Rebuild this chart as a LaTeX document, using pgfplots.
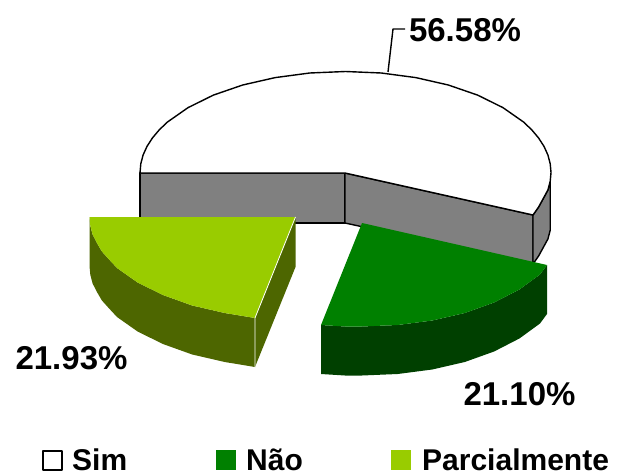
\documentclass[border=0pt]{standalone}
\usepackage{pgfplots}
\usepackage{fontspec}
\setmainfont{Liberation Sans}
\pgfplotsset{compat=1.18}
\definecolor{grayw}{HTML}{808080}
\definecolor{gtop}{HTML}{008000}
\definecolor{gside}{HTML}{004000}
\definecolor{ytop}{HTML}{99CC00}
\definecolor{yside}{HTML}{4D6600}
\newcommand{\lab}{\fontsize{33}{36}\selectfont\bfseries}
\newcommand{\leg}{\fontsize{30}{34}\selectfont\bfseries}
\begin{document}
\begin{tikzpicture}
\begin{axis}[
  scale only axis, width=628pt, height=473pt,
  xmin=0, xmax=628, ymin=0, ymax=473, y dir=reverse,
  axis lines=none, clip=false, no markers,
  every axis plot/.append style={line join=round}
]
% page frame (invisible), holds the picture at the reference's size
\addplot[draw=none] coordinates {(0,0) (628,0) (628,473) (0,473)};
% grey walls of the Sim slice
\addplot[draw=black, line width=1.4pt, fill=grayw] coordinates {(140,173) (345,173) (345,223) (140,223)} -- cycle;
\addplot[draw=black, line width=1.4pt, fill=grayw] coordinates {(345,173) (533,215) (533,264) (345,223)} -- cycle;
\addplot[draw=black, line width=1.4pt, fill=grayw] coordinates {(533,215) (538.6,207) (547.9,190) (550.2,181.3) (550.2,230.3) (547.9,239) (538.6,256) (533,264)} -- cycle;
% white top
\addplot[draw=black, line width=1.4pt, fill=white] coordinates {
 (345,173) (533,215) (538.6,207) (547.9,190) (550.2,181.3) (551,172.5) (550.2,163.7) (547.9,155) (544,146.4) (538.6,138) (531.7,129.8) (523.5,122) (502.9,107.6) (477.6,95.1) (448.3,85) (415.8,77.6) (381.2,73) (345.5,71.5) (309.8,73) (275.2,77.6) (242.7,85) (213.4,95.1) (188.1,107.6) (167.5,122) (159.3,129.8) (152.4,138) (147,146.4) (143.1,155) (140.8,163.7) (140,173)} -- cycle;
% leader
\addplot[draw=black, line width=1.4pt] coordinates {(388,72) (393,29) (405,29)};
% green slice
\addplot[draw=none, fill=gside] coordinates {
 (547,265) (540,274.5) (519.4,289.5) (494.1,302.5) (464.8,313) (432.3,320.5) (397.7,325) (362,326.5) (345,326.5) (321,325)
 (321,374) (345,375.5) (362,375.5) (397.7,374) (432.3,369.5) (464.8,362) (494.1,351.5) (519.4,338.5) (540,323.5) (547,314)} -- cycle;
\addplot[draw=none, fill=gtop] coordinates {
 (362,223) (547,265) (540,274.5) (519.4,289.5) (494.1,302.5) (464.8,313) (432.3,320.5) (397.7,325) (362,326.5) (345,326.5) (321,325)} -- cycle;
% yellow slice
\addplot[draw=none, fill=yside] coordinates {
 (89.5,217) (90.3,225.8) (92.6,234.5) (97,243.1) (101.9,251.5) (109.3,259.7) (117,268) (137.6,282.5) (162.9,295) (192.2,305.5) (224.7,313) (255,318)
 (255,367) (224.7,362) (192.2,354.5) (162.9,344) (137.6,331.5) (117,317) (109.3,308.7) (101.9,300.5) (97,292.1) (92.6,283.5) (90.3,274.8) (89.5,266)} -- cycle;
\addplot[draw=none, fill=yside] coordinates {(255,318) (295.5,217) (295.5,267) (255,367)} -- cycle;
\addplot[draw=none, fill=ytop] coordinates {
 (89.5,217) (295.5,217) (255,318) (224.7,313) (192.2,305.5) (162.9,295) (137.6,282.5) (117,268) (109.3,259.7) (101.9,251.5) (97,243.1) (92.6,234.5) (90.3,225.8)} -- cycle;
\addplot[draw=white, line width=0.8pt] coordinates {(295.5,217) (255,318) (255,367)};
% legend keys
\addplot[draw=black, line width=1.2pt, fill=white] coordinates {(43,451) (62,451) (62,470) (43,470)} -- cycle;
\addplot[draw=none, fill=gtop] coordinates {(216,450) (236,450) (236,470) (216,470)} -- cycle;
\addplot[draw=none, fill=ytop] coordinates {(391,450) (411,450) (411,470) (391,470)} -- cycle;
% labels
\node[anchor=center, inner sep=0pt] at (axis cs:465,30) {\lab 56.58\%};
\node[anchor=center, inner sep=0pt] at (axis cs:71.5,358) {\lab 21.93\%};
\node[anchor=center, inner sep=0pt] at (axis cs:519.5,394) {\lab 21.10\%};
\node[anchor=west, inner sep=0pt] at (axis cs:72,460) {\leg Sim};
\node[anchor=west, inner sep=0pt] at (axis cs:246,460) {\leg Não};
\node[anchor=west, inner sep=0pt] at (axis cs:422,460) {\leg Parcialmente};
\end{axis}
\end{tikzpicture}
\end{document}
